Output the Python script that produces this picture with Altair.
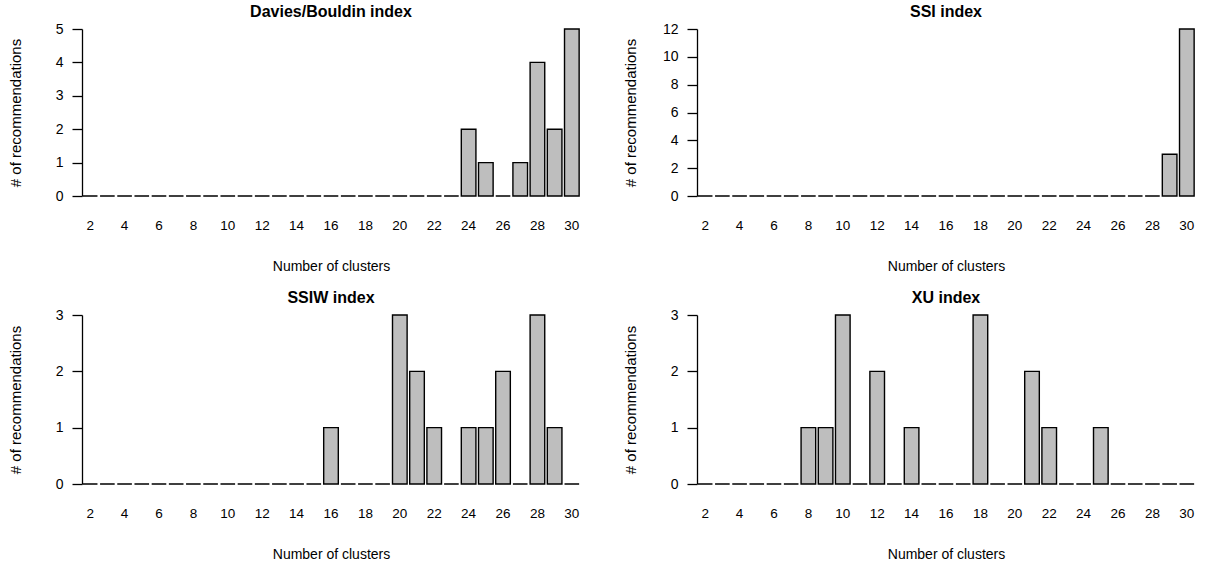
import altair as alt
import pandas as pd

FONT = "Liberation Sans"

clusters = list(range(2, 31))

db_counts = [0, 0, 0, 0, 0, 0, 0, 0, 0, 0, 0, 0, 0, 0, 0, 0, 0, 0, 0, 0, 0, 0,
             2, 1, 0, 1, 4, 2, 5]
ssi_counts = [0, 0, 0, 0, 0, 0, 0, 0, 0, 0, 0, 0, 0, 0, 0, 0, 0, 0, 0, 0, 0, 0,
              0, 0, 0, 0, 0, 3, 12]
ssiw_counts = [0, 0, 0, 0, 0, 0, 0, 0, 0, 0, 0, 0, 0, 0,
               1, 0, 0, 0, 3, 2, 1, 0, 1, 1, 2, 0, 3, 1, 0]
xu_counts = [0, 0, 0, 0, 0, 0,
             1, 1, 3, 0, 2, 0, 1, 0, 0, 0, 3, 0, 0, 2, 1, 0, 0, 1,
             0, 0, 0, 0, 0]

titles = ["Davies/Bouldin index", "SSI index", "SSIW index", "XU index"]
y_ticks = [[0, 1, 2, 3, 4, 5], [0, 2, 4, 6, 8, 10, 12], [0, 1, 2, 3], [0, 1, 2, 3]]


def panel(title, counts, ticks, height, title_pad):
    df = pd.DataFrame({"k": clusters, "n": counts})
    return (
        alt.Chart(df, title=alt.Title(title, fontSize=16, fontWeight="bold", font=FONT,
                                      offset=2, frame="group", anchor="middle", color="black"))
        .mark_bar(fill="#BEBEBE", stroke="black", strokeWidth=1.4)
        .encode(
            x=alt.X("k:O",
                    scale=alt.Scale(paddingInner=0.15, paddingOuter=0.05),
                    axis=alt.Axis(title="Number of clusters", labelAngle=0, ticks=False, tickSize=0,
                                  domain=False, labelPadding=22, titlePadding=28,
                                  labelExpr="datum.value % 2 == 0 ? datum.label : ''",
                                  labelFontSize=13.5, titleFontSize=14, labelFont=FONT,
                                  titleFont=FONT, titleFontWeight="normal",
                                  labelColor="black", titleColor="black")),
            y=alt.Y("n:Q",
                    scale=alt.Scale(domain=[0, ticks[-1]], nice=False, zero=True),
                    axis=alt.Axis(title="# of recommendations", values=ticks, format="d",
                                  grid=False, tickSize=10, labelPadding=9,
                                  titlePadding=title_pad, domainColor="black",
                                  tickColor="black", domainWidth=1.3, tickWidth=1.3,
                                  labelFontSize=14, titleFontSize=15, labelFont=FONT,
                                  titleFont=FONT, titleFontWeight="normal",
                                  labelColor="black", titleColor="black")),
        )
        .properties(width=498, height=height)
    )


p1 = panel(titles[0], db_counts, y_ticks[0], 167, 32)
p2 = panel(titles[1], ssi_counts, y_ticks[1], 167, 24)
p3 = panel(titles[2], ssiw_counts, y_ticks[2], 169, 32)
p4 = panel(titles[3], xu_counts, y_ticks[3], 169, 32)

chart = (
    alt.vconcat(
        alt.hconcat(p1, p2, spacing=43),
        alt.hconcat(p3, p4, spacing=43),
        spacing=16,
    )
    .properties(padding={"left": 8, "top": 4, "right": 5, "bottom": 5}, background="white")
    .configure_view(stroke=None)
)

chart.save("out.html", embed_options={"renderer": "svg", "actions": False})
